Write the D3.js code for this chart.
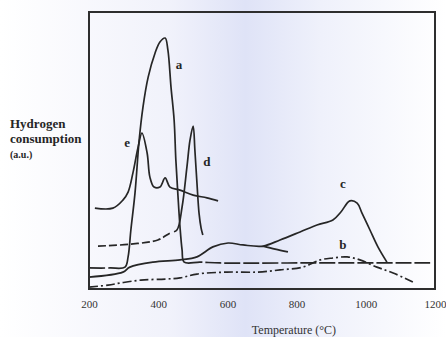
<!DOCTYPE html>
<html>
<head>
<meta charset="utf-8">
<script src="https://cdn.jsdelivr.net/npm/d3@7"></script>
<style>
  html, body { margin: 0; padding: 0; background: #fff; }
  svg { display: block; }
  .tick text { font-family: "Liberation Serif", "DejaVu Serif", serif; font-size: 11px; fill: #333; }
</style>
</head>
<body>
<svg id="chart" width="446" height="337"></svg>
<script>
// temperature (C), hydrogen consumption (a.u., 0-100 of frame height)
var curveA = [[200, 7.6], [261, 7.6], [304, 7.9], [313, 11.6], [321, 21.3], [333, 34.7], [345, 53.8],
    [356, 65.7], [371, 76.5], [391, 85.2], [405, 89.2], [420, 90.6], [428, 86.3], [437, 72.9],
    [446, 61.0], [451, 46.6], [457, 33.9], [463, 22.4], [469, 14.1], [475, 9.7], [521, 9.7],
    [579, 9.4], [810, 9.4], [1186, 9.4]];
var curveB = [[200, 0.7], [255, 1.4], [292, 2.2], [350, 3.2], [420, 3.6], [463, 4.0], [512, 5.4],
    [599, 6.1], [686, 6.1], [752, 6.9], [818, 7.9], [868, 10.5], [905, 11.2], [946, 11.6],
    [983, 10.5], [1032, 7.9], [1079, 5.8], [1136, 2.5]];
// null splits the short branch that leaves the 600 C hump
var curveC = [[200, 4.3], [298, 6.1], [318, 7.9], [385, 9.7], [463, 10.5], [512, 11.6], [558, 15.2],
    [602, 16.6], [645, 15.9], [703, 15.5], [752, 17.7], [810, 20.6], [859, 23.1], [905, 24.9],
    [928, 27.8], [954, 31.8], [975, 31.0], [989, 27.4], [1012, 21.3], [1035, 15.2], [1061, 9.7],
    null, [703, 15.5], [738, 14.4], [775, 13.4]];
var curveD = [[226, 15.5], [321, 16.2], [399, 17.7], [434, 20.2], [454, 21.3], [469, 29.6], [483, 44.0],
    [492, 53.8], [501, 58.8], [506, 50.2], [512, 38.3], [518, 27.4], [524, 22.0], [529, 19.5]];
var curveE = [[217, 29.2], [269, 29.2], [298, 32.1], [313, 35.0], [327, 41.9], [342, 51.3], [353, 56.3],
    [368, 49.1], [376, 40.4], [388, 36.8], [405, 36.8], [420, 40.1], [434, 36.8], [463, 35.7],
    [501, 33.9], [541, 32.9], [573, 31.8]];

var xTicks = [200, 400, 600, 800, 1000, 1200];
var curveNames = ["a", "b", "c", "d", "e"];
var labelPos = [[460, 79.4], [934, 14.4], [934, 36.5], [541, 44.4], [310, 51.3]];

var svg = d3.select("#chart"),
    width = +svg.attr("width"),
    height = +svg.attr("height");

var box = {left: 89, right: 435, top: 12, bottom: 289};

var x = d3.scaleLinear().domain([200, 1200]).range([box.left, box.right]);
var y = d3.scaleLinear().domain([0, 100]).range([box.bottom, box.top]);

// faint scan tint in the middle of the page
var defs = svg.append("defs");
var grad = defs.append("linearGradient").attr("id", "tint");
grad.append("stop").attr("offset", "0%").attr("stop-color", "#ffffff");
grad.append("stop").attr("offset", "38%").attr("stop-color", "#f1f2fb");
grad.append("stop").attr("offset", "55%").attr("stop-color", "#dfe3f7");
grad.append("stop").attr("offset", "72%").attr("stop-color", "#eff1fb");
grad.append("stop").attr("offset", "100%").attr("stop-color", "#ffffff");
svg.append("rect")
    .attr("width", width)
    .attr("height", height)
    .attr("fill", "url(#tint)");

var line = d3.line()
    .defined(function (d) { return d !== null; })
    .x(function (d) { return x(d[0]); })
    .y(function (d) { return y(d[1]); })
    .curve(d3.curveCatmullRom.alpha(0.5));

// solid: temperature range drawn as an unbroken stroke (the sharp peaks), rest uses the dash
var series = [
    {data: curveA, dash: [16, 3], solid: [300, 480]},
    {data: curveB, dash: [9, 3, 2, 3], solid: null},
    {data: curveC, dash: null, solid: null},
    {data: curveD, dash: [8, 3], solid: [445, 540]},
    {data: curveE, dash: null, solid: null}
];

// length along the path where it first passes a given pixel x
function lengthAtX(node, px) {
    var total = node.getTotalLength();
    for (var l = 0; l <= total; l += 0.5) {
        if (node.getPointAtLength(l).x >= px) return l;
    }
    return total;
}

function dashArray(node, d) {
    if (!d.dash) return null;
    if (!d.solid) return d.dash.join(",");
    var total = node.getTotalLength(),
        l0 = lengthAtX(node, x(d.solid[0])),
        l1 = lengthAtX(node, x(d.solid[1])),
        out = [], pos = 0, i = 0;
    // dashes up to l0 (always ending on a gap)
    while (pos + d.dash[0] < l0) {
        out.push(d.dash[i % d.dash.length]);
        pos += d.dash[i % d.dash.length];
        i++;
    }
    if (out.length % 2 == 1) { out.push(l0 - pos); pos = l0; }
    // solid run to l1, then dashes to the end
    out.push(l1 - pos + d.dash[0]);
    out.push(d.dash[1]);
    pos = l1 + d.dash[0] + d.dash[1];
    i = 2;
    while (pos < total) {
        out.push(d.dash[i % d.dash.length]);
        pos += d.dash[i % d.dash.length];
        i++;
    }
    if (out.length % 2 == 1) out.push(0);
    return out.join(",");
}

svg.append("g")
    .attr("class", "curves")
    .selectAll("path")
    .data(series)
    .enter().append("path")
    .attr("d", function (d) { return line(d.data); })
    .attr("fill", "none")
    .attr("stroke", "#262626")
    .attr("stroke-width", 1.7)
    .attr("stroke-linejoin", "round")
    .each(function (d) {
        d3.select(this).attr("stroke-dasharray", dashArray(this, d));
    });

svg.append("g")
    .selectAll("text")
    .data(curveNames)
    .enter().append("text")
    .attr("x", function (d, i) { return x(labelPos[i][0]); })
    .attr("y", function (d, i) { return y(labelPos[i][1]); })
    .attr("text-anchor", "middle")
    .attr("font-family", "Liberation Serif, serif")
    .attr("font-weight", "bold")
    .attr("font-size", 13)
    .attr("fill", "#262626")
    .text(function (d) { return d; });

// frame
svg.append("rect")
    .attr("x", box.left)
    .attr("y", box.top)
    .attr("width", box.right - box.left)
    .attr("height", box.bottom - box.top)
    .attr("fill", "none")
    .attr("stroke", "#2e2e2e")
    .attr("stroke-width", 2);

var xAxis = svg.append("g")
    .attr("transform", "translate(0," + box.bottom + ")")
    .call(d3.axisBottom(x).tickValues(xTicks).tickSize(0).tickPadding(11).tickFormat(d3.format("d")));
xAxis.select(".domain").remove();

svg.append("text")
    .attr("x", 294)
    .attr("y", 334)
    .attr("text-anchor", "middle")
    .attr("font-family", "Liberation Serif, serif")
    .attr("font-size", 12)
    .attr("fill", "#333")
    .text("Temperature (°C)");

svg.append("text")
    .attr("font-family", "Liberation Serif, serif")
    .attr("font-weight", "bold")
    .attr("fill", "#262626")
    .selectAll("tspan")
    .data(["Hydrogen", "consumption", "(a.u.)"])
    .enter().append("tspan")
    .attr("x", 10)
    .attr("y", function (d, i) { return 128 + i * 15; })
    .attr("font-size", function (d, i) { return i == 2 ? 10 : 13; })
    .text(function (d) { return d; });
</script>
</body>
</html>
